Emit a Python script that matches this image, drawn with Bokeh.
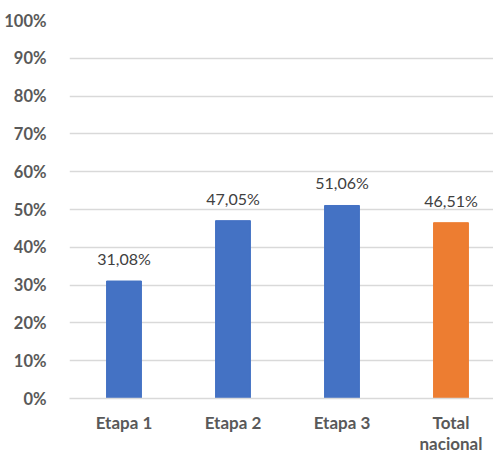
from bokeh.plotting import figure
from bokeh.models import ColumnDataSource, Range1d, FixedTicker, LabelSet
from bokeh.core.properties import value
from bokeh.embed import file_html
from bokeh.resources import INLINE

categories = ["Etapa 1", "Etapa 2", "Etapa 3", "Total\nnacional"]
values = [31.08, 47.05, 51.06, 46.51]
colors = ["#4472C4", "#4472C4", "#4472C4", "#ED7D31"]
y_ticks = [0, 10, 20, 30, 40, 50, 60, 70, 80, 90, 100]

xs = list(range(len(categories)))
labels = [f"{v:.2f}%".replace(".", ",") for v in values]
src = ColumnDataSource(dict(x=xs, top=values, color=colors, label=labels))

p = figure(width=493, height=456, output_backend="svg", toolbar_location=None,
           x_range=Range1d(-0.5, 3.39), y_range=Range1d(0, 100))
p.min_border_left = 69
p.min_border_right = 0
p.min_border_top = 20
p.min_border_bottom = 55
p.outline_line_color = None
p.background_fill_color = "white"
p.border_fill_color = "white"

p.vbar(x="x", top="top", width=0.32, color="color", source=src)

p.add_layout(LabelSet(x="x", y="top", text="label", source=src, text_align="center",
                      text_baseline="bottom", y_offset=13, text_font_size="16px",
                      text_color="#404040", text_font=value("Lato")))

p.xaxis.ticker = FixedTicker(ticks=xs)
p.xaxis.major_label_overrides = {i: c for i, c in enumerate(categories)}
p.xaxis.major_label_text_font = "Lato"
p.xaxis.major_label_text_font_style = "bold"
p.xaxis.major_label_text_font_size = "17px"
p.xaxis.major_label_text_line_height = 1.0
p.xaxis.major_label_text_color = "#595959"
p.xaxis.axis_line_color = "#D9D9D9"
p.xaxis.axis_line_width = 1.5
p.xaxis.major_tick_line_color = None
p.xaxis.minor_tick_line_color = None
p.xaxis.major_label_standoff = 7
p.xgrid.grid_line_color = None

p.yaxis.ticker = FixedTicker(ticks=y_ticks)
p.yaxis.major_label_overrides = {t: f"{t}%" for t in y_ticks}
p.yaxis.major_label_text_font = "Lato"
p.yaxis.major_label_text_font_style = "bold"
p.yaxis.major_label_text_font_size = "16.5px"
p.yaxis.major_label_text_color = "#595959"
p.yaxis.axis_line_color = None
p.yaxis.major_tick_line_color = None
p.yaxis.minor_tick_line_color = None
p.yaxis.major_label_standoff = 17
p.ygrid.grid_line_color = "#D9D9D9"
p.ygrid.grid_line_width = 1.5

open("out.html", "w").write(file_html(p, INLINE))
